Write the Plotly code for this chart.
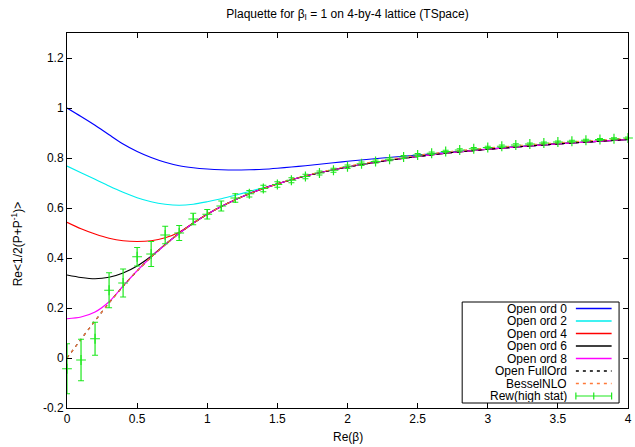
import plotly.graph_objects as go

# ---------------- data ----------------
x_grid = [0.0, 0.1, 0.2, 0.3, 0.4, 0.5, 0.6, 0.7, 0.8, 0.9, 1.0,
          1.1, 1.2, 1.3, 1.4, 1.5, 1.6, 1.7, 1.8, 1.9, 2.0,
          2.25, 2.5, 2.75, 3.0, 3.25, 3.5, 3.75, 4.0]

open_ord0 = [1.000, 0.966, 0.931, 0.893, 0.856, 0.826, 0.802, 0.783, 0.769, 0.761, 0.756,
             0.753, 0.752, 0.753, 0.755, 0.759, 0.764, 0.769, 0.775, 0.781, 0.787,
             0.800, 0.812, 0.824, 0.836, 0.8465, 0.8565, 0.8655, 0.874]
open_ord2 = [0.768, 0.741, 0.715, 0.688, 0.663, 0.641, 0.625, 0.615, 0.611, 0.615, 0.625,
             0.637, 0.651, 0.666, 0.681, 0.697, 0.713, 0.728, 0.741, 0.753, 0.764,
             0.787, 0.806, 0.822, 0.835, 0.846, 0.8565, 0.8655, 0.874]
open_ord4 = [0.543, 0.517, 0.496, 0.479, 0.469, 0.466, 0.469, 0.481, 0.503, 0.540, 0.575,
             0.606, 0.633, 0.657, 0.678, 0.6965, 0.713, 0.728, 0.741, 0.753, 0.764,
             0.787, 0.806, 0.822, 0.835, 0.846, 0.8565, 0.8655, 0.874]
open_ord6 = [0.332, 0.322, 0.317, 0.323, 0.340, 0.368, 0.407, 0.454, 0.499, 0.539, 0.575,
             0.606, 0.633, 0.657, 0.678, 0.6965, 0.713, 0.728, 0.741, 0.753, 0.764,
             0.787, 0.806, 0.822, 0.835, 0.846, 0.8565, 0.8655, 0.874]
open_ord8 = [0.157, 0.164, 0.184, 0.225, 0.288, 0.349, 0.404, 0.453, 0.499, 0.539, 0.575,
             0.606, 0.633, 0.657, 0.678, 0.6965, 0.713, 0.728, 0.741, 0.753, 0.764,
             0.787, 0.806, 0.822, 0.835, 0.846, 0.8565, 0.8655, 0.874]
open_full = [0.000, 0.075, 0.149, 0.220, 0.287, 0.348, 0.404, 0.453, 0.499, 0.539, 0.575,
             0.606, 0.633, 0.657, 0.678, 0.6965, 0.713, 0.728, 0.741, 0.753, 0.764,
             0.787, 0.806, 0.822, 0.835, 0.846, 0.8565, 0.8655, 0.874]
bessel_nlo = [0.000, 0.075, 0.149, 0.220, 0.287, 0.348, 0.404, 0.453, 0.499, 0.539, 0.575,
              0.606, 0.633, 0.657, 0.678, 0.6965, 0.714, 0.729, 0.743, 0.755, 0.767,
              0.791, 0.811, 0.827, 0.840, 0.851, 0.861, 0.870, 0.879]

rew_x = [0.0, 0.1, 0.2, 0.3, 0.4, 0.5, 0.6, 0.7, 0.8, 0.9, 1.0,
         1.1, 1.2, 1.3, 1.4, 1.5, 1.6, 1.7, 1.8, 1.9, 2.0,
         2.1, 2.2, 2.3, 2.4, 2.5, 2.6, 2.7, 2.8, 2.9, 3.0,
         3.1, 3.2, 3.3, 3.4, 3.5, 3.6, 3.7, 3.8, 3.9, 4.0]
rew_y = [-0.043, -0.008, 0.077, 0.271, 0.300, 0.405, 0.416, 0.492, 0.500, 0.556, 0.575,
         0.608, 0.640, 0.657, 0.678, 0.694, 0.711, 0.726, 0.740, 0.751, 0.765,
         0.777, 0.786, 0.795, 0.804, 0.812, 0.819, 0.826, 0.832, 0.837, 0.842,
         0.847, 0.852, 0.856, 0.860, 0.864, 0.867, 0.871, 0.874, 0.877, 0.880]
rew_err = [0.100, 0.083, 0.066, 0.070, 0.056, 0.037, 0.050, 0.035, 0.030, 0.023, 0.019,
           0.020, 0.017, 0.013, 0.013, 0.011, 0.010, 0.009, 0.008, 0.008, 0.007,
           0.007, 0.006, 0.006, 0.006, 0.006, 0.005, 0.005, 0.005, 0.005, 0.005,
           0.005, 0.005, 0.004, 0.004, 0.004, 0.004, 0.004, 0.004, 0.004, 0.004]

x_ticks = [0, 0.5, 1, 1.5, 2, 2.5, 3, 3.5, 4]
x_tick_labels = ["0", "0.5", "1", "1.5", "2", "2.5", "3", "3.5", "4"]
y_ticks = [-0.2, 0, 0.2, 0.4, 0.6, 0.8, 1.0, 1.2]
y_tick_labels = ["-0.2", "0", "0.2", "0.4", "0.6", "0.8", "1", "1.2"]

legend_labels = ["Open ord 0", "Open ord 2", "Open ord 4", "Open ord 6",
                 "Open ord 8", "Open FullOrd", "BesselNLO", "Rew(high stat)"]

# ---------------- styles ----------------
FONT = "Liberation Sans, Arial, Helvetica, sans-serif"
W, H = 635, 447
L, R, T, B = 67, 3, 33, 39
PW, PH = W - L - R, H - T - B

curves = [
    (open_ord0, "#0000ff", "solid"),
    (open_ord2, "#00eeee", "solid"),
    (open_ord4, "#ff0000", "solid"),
    (open_ord6, "#000000", "solid"),
    (open_ord8, "#ff00ff", "solid"),
    (open_full, "#000000", "3px,4px"),
    (bessel_nlo, "#ff7a3a", "3px,4px"),
]
GREEN = "#1ee81e"

fig = go.Figure()
for (ys, col, dash), name in zip(curves, legend_labels):
    fig.add_trace(go.Scatter(x=x_grid, y=ys, mode="lines", name=name,
                             line=dict(color=col, width=1.2, dash=dash,
                                       shape="spline", smoothing=0.8),
                             showlegend=False))

fig.add_trace(go.Scatter(
    x=rew_x, y=rew_y, mode="markers", name=legend_labels[7],
    marker=dict(symbol="cross-thin", size=7, color=GREEN,
                line=dict(color=GREEN, width=1.2)),
    error_y=dict(type="data", array=rew_err, visible=True,
                 color=GREEN, thickness=1.2, width=3),
    cliponaxis=False, showlegend=False))


def px_x(px):
    return (px - L) / PW


def px_y(py):
    return (H - B - py) / PH


shapes = []
annotations = []

# legend box
shapes.append(dict(type="rect", xref="paper", yref="paper",
                   x0=px_x(465), x1=px_x(623), y0=px_y(403), y1=px_y(302),
                   line=dict(color="black", width=1), layer="above"))

row0, drow = 308.5, 12.5
sx0, sx1 = 579.5, 615.5
for i, name in enumerate(legend_labels):
    py = row0 + i * drow
    annotations.append(dict(x=px_x(572), y=px_y(py), xref="paper", yref="paper",
                            text=name, showarrow=False, xanchor="right",
                            yanchor="middle", height=12, borderpad=0,
                            font=dict(size=12, color="black", family=FONT)))
    if i < 7:
        col, dash = curves[i][1], curves[i][2]
        shapes.append(dict(type="line", xref="paper", yref="paper",
                           x0=px_x(sx0), x1=px_x(sx1), y0=px_y(py), y1=px_y(py),
                           line=dict(color=col, width=1.3, dash=dash), layer="above"))
    else:
        shapes.append(dict(type="line", xref="paper", yref="paper",
                           x0=px_x(sx0), x1=px_x(sx1), y0=px_y(py), y1=px_y(py),
                           line=dict(color=GREEN, width=1.2), layer="above"))
        for xx in (sx0, (sx0 + sx1) / 2, sx1):
            shapes.append(dict(type="line", xref="paper", yref="paper",
                               x0=px_x(xx), x1=px_x(xx),
                               y0=px_y(py - 3.5), y1=px_y(py + 3.5),
                               line=dict(color=GREEN, width=1.2), layer="above"))

# axis titles
annotations.append(dict(x=px_x(350), y=px_y(437), xref="paper", yref="paper",
                        text="Re(β)", showarrow=False, xanchor="center", yanchor="middle",
                        font=dict(size=12, color="black", family=FONT)))
annotations.append(dict(x=px_x(17), y=px_y(244), xref="paper", yref="paper",
                        text="Re<1/2(P+P<sup>-1</sup>)>", showarrow=False, textangle=-90,
                        xanchor="center", yanchor="middle",
                        font=dict(size=12, color="black", family=FONT)))

axis_common = dict(ticks="inside", ticklen=5, tickwidth=1, tickcolor="black",
                   showline=True, linecolor="black", linewidth=1, mirror="ticks",
                   showgrid=False, zeroline=False, ticklabeloverflow="allow",
                   tickfont=dict(size=12, color="black", family=FONT))

fig.update_layout(
    width=W, height=H,
    margin=dict(l=L, r=R, t=T, b=B, pad=0),
    paper_bgcolor="white", plot_bgcolor="white",
    font=dict(family=FONT, size=12, color="black"),
    title=dict(text="Plaquette for β<sub>I</sub> = 1 on 4-by-4 lattice (TSpace)",
               x=0.5, xref="paper", xanchor="center",
               y=1 - 13.5 / H, yref="container", yanchor="middle",
               font=dict(size=12, color="black", family=FONT)),
    xaxis=dict(range=[0, 4], tickvals=x_ticks, ticktext=x_tick_labels, **axis_common),
    yaxis=dict(range=[-0.2, 1.3], tickvals=y_ticks, ticktext=y_tick_labels, **axis_common),
    shapes=shapes, annotations=annotations,
    showlegend=False,
)

fig.write_html("out.html", config={"displayModeBar": False},
               post_script="document.body.style.margin='0';document.body.style.overflow='hidden';")
